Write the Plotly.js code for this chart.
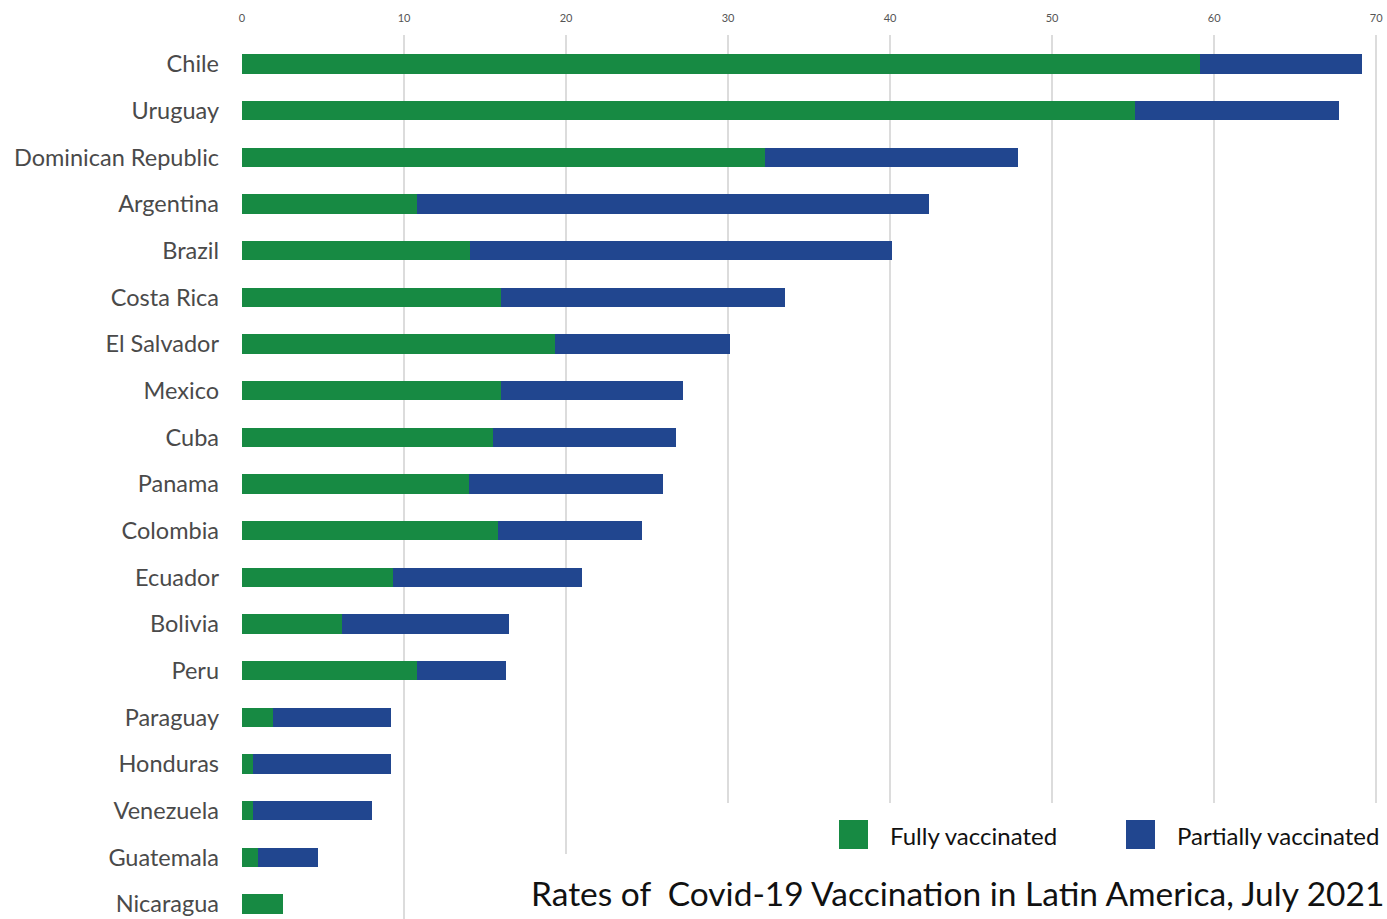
<!DOCTYPE html>
<html>
<head>
<meta charset="utf-8">
<script src="https://cdn.plot.ly/plotly-3.0.1.min.js"></script>
<style>html,body{margin:0;padding:0;background:#fff;}#chart{width:1387px;height:919px;}</style>
</head>
<body>
<div id="chart"></div>
<script>
const countries = ["Chile","Uruguay","Dominican Republic","Argentina","Brazil","Costa Rica","El Salvador","Mexico","Cuba","Panama","Colombia","Ecuador","Bolivia","Peru","Paraguay","Honduras","Venezuela","Guatemala","Nicaragua"];
const fullyVaccinated = [59.1,55.1,32.3,10.8,14.1,16.0,19.3,16.0,15.5,14.0,15.8,9.3,6.2,10.8,1.9,0.7,0.7,1.0,2.5];
const partiallyVaccinated = [10.0,12.6,15.6,31.6,26.0,17.5,10.8,11.2,11.3,12.0,8.9,11.7,10.3,5.5,7.3,8.5,7.3,3.7,0];
const xTicks = [0,10,20,30,40,50,60,70];
const seriesNames = ["Fully vaccinated","Partially vaccinated"];
const titleText = "Rates of&nbsp; Covid-19 Vaccination in Latin America, July 2021";

const GREEN = "#178A43", BLUE = "#21468F";
const W = 1387, H = 919, L = 242, R = 6, T = 35, B = 0;
const pw = W - L - R, ph = H - T - B;
const px = x => (x - L) / pw;
const py = y => (H - B - y) / ph;

const traces = [
  {type:"bar", orientation:"h", y:countries, x:fullyVaccinated, name:seriesNames[0], marker:{color:GREEN}, showlegend:false, hoverinfo:"x+y"},
  {type:"bar", orientation:"h", y:countries, x:partiallyVaccinated, name:seriesNames[1], marker:{color:BLUE}, showlegend:false, hoverinfo:"x+y"}
];

const font = "Lato, 'Open Sans', sans-serif";
const layout = {
  width:W, height:H,
  margin:{l:L, r:R, t:T, b:B, pad:0},
  paper_bgcolor:"#ffffff", plot_bgcolor:"#ffffff",
  barmode:"stack", bargap:0.59,
  font:{family:font, color:"#555"},
  xaxis:{side:"top", range:[0,70.3], tickvals:xTicks, ticktext:xTicks.map(String),
    showgrid:true, gridcolor:"#dcdcdc", gridwidth:1.5, zeroline:false, showline:false,
    ticks:"", tickfont:{size:11, color:"#555", family:font}, ticklabelstandoff:10, fixedrange:true},
  yaxis:{type:"category", categoryorder:"array", categoryarray:countries,
    range:[18.321,-0.621], showgrid:false, zeroline:false, showline:false, ticks:"",
    tickfont:{size:23.5, color:"#4a4a4a", family:font}, ticklabelstandoff:22, fixedrange:true},
  shapes:[
    {type:"rect", xref:"paper", yref:"paper", x0:px(643), x1:px(1390), y0:py(803), y1:py(922), fillcolor:"#ffffff", line:{width:0}, layer:"above"},
    {type:"rect", xref:"paper", yref:"paper", x0:px(505), x1:px(1390), y0:py(854), y1:py(922), fillcolor:"#ffffff", line:{width:0}, layer:"above"},
    {type:"rect", xref:"paper", yref:"paper", x0:px(839), x1:px(868), y0:py(820), y1:py(849), fillcolor:GREEN, line:{width:0}, layer:"above"},
    {type:"rect", xref:"paper", yref:"paper", x0:px(1126), x1:px(1155), y0:py(820), y1:py(849), fillcolor:BLUE, line:{width:0}, layer:"above"}
  ],
  annotations:[
    {xref:"paper", yref:"paper", x:px(888), y:py(835), xanchor:"left", yanchor:"middle", text:seriesNames[0], showarrow:false, font:{size:24, color:"#111", family:font}},
    {xref:"paper", yref:"paper", x:px(1175), y:py(835), xanchor:"left", yanchor:"middle", text:seriesNames[1], showarrow:false, font:{size:24, color:"#111", family:font}},
    {xref:"paper", yref:"paper", x:px(1386), y:py(893), xanchor:"right", yanchor:"middle", text:titleText, showarrow:false, font:{size:33.5, color:"#111", family:font}}
  ]
};

Plotly.newPlot("chart", traces, layout, {displayModeBar:false, staticPlot:true});
</script>
</body>
</html>
